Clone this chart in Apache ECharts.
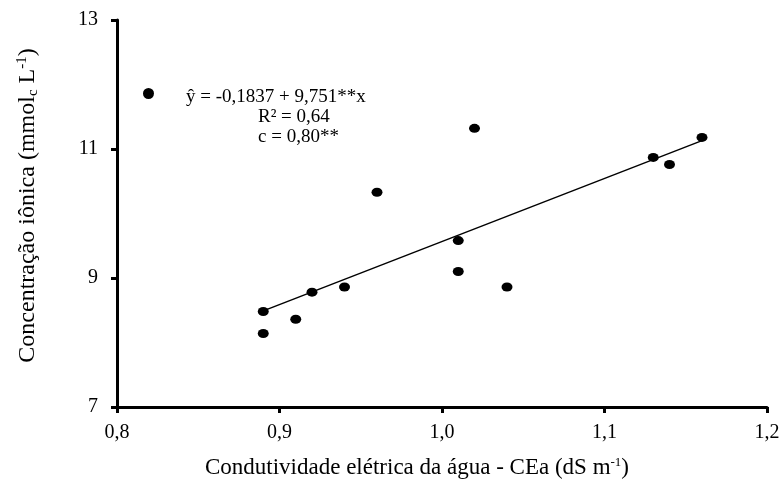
<!DOCTYPE html>
<html>
<head>
<meta charset="utf-8">
<script src="https://cdn.jsdelivr.net/npm/echarts@6/dist/echarts.min.js"></script>
<style>
  html, body { margin: 0; padding: 0; background: #fff; }
  #chart { width: 779px; height: 480px; }
</style>
</head>
<body>
<div id="chart"></div>
<script>
// observed points (CEa, concentration)
var ceaValues = [0.89, 0.89, 0.91, 0.92, 0.94, 0.96, 1.01, 1.01, 1.02, 1.04, 1.13, 1.14, 1.16];
var concValues = [8.48, 8.14, 8.36, 8.78, 8.86, 10.33, 9.58, 9.10, 11.32, 8.86, 10.87, 10.76, 11.18];
// fitted line ends
var fitX = [0.89, 1.16];
var fitY = [8.49, 11.13];
var xTicks = [0.8, 0.9, 1.0, 1.1, 1.2];
var yTicks = [7, 9, 11, 13];

var serif = 'Liberation Serif';
var points = ceaValues.map(function (x, i) { return [x, concValues[i]]; });
var fitLine = fitX.map(function (x, i) { return [x, fitY[i]]; });

var chart = echarts.init(document.getElementById('chart'));
var option = {
    animation: false,
    textStyle: {fontFamily: serif, color: '#000'},
    grid: {left: 117, right: 12, top: 20, bottom: 73, outerBoundsMode: 'none', containLabel: false},
    legend: {
        left: 138, top: 83,
        itemWidth: 11, itemHeight: 11,
        data: [{name: 'obs', icon: 'circle', itemStyle: {color: '#000', opacity: 1}}],
        formatter: function () { return ''; }
    },
    xAxis: {
        type: 'value', min: 0.8, max: 1.2, interval: 0.1,
        axisLine: {onZero: false, lineStyle: {color: '#000', width: 3}},
        axisTick: {length: 6, lineStyle: {color: '#000', width: 3}},
        splitLine: {show: false},
        axisLabel: {
            fontFamily: serif, fontSize: 20, color: '#000', margin: 16,
            formatter: function (v) { return v.toFixed(1).replace('.', ','); }
        },
        name: '{t|Condutividade elétrica da água - CEa (dS m}{s|-1}{t|)}',
        nameLocation: 'middle', nameGap: 49,
        nameTextStyle: {
            padding: [0, 50, 0, 0],
            rich: {
                t: {fontFamily: serif, fontSize: 23, color: '#000', lineHeight: 24},
                s: {fontFamily: serif, fontSize: 13, color: '#000', lineHeight: 24, verticalAlign: 'top', padding: [0, 0, 10, 0]}
            }
        }
    },
    yAxis: {
        type: 'value', min: 7, max: 13, interval: 2,
        axisLine: {onZero: false, lineStyle: {color: '#000', width: 3}},
        axisTick: {length: 6, lineStyle: {color: '#000', width: 3}},
        splitLine: {show: false},
        axisLabel: {fontFamily: serif, fontSize: 20, color: '#000', margin: 19},
        name: '{t|Concentração iônica (mmol}{b|c}{t| L}{s|-1}{t|)}',
        nameLocation: 'middle', nameGap: 76, nameRotate: 90,
        nameTextStyle: {
            padding: [0, 0, 0, 16],
            rich: {
                t: {fontFamily: serif, fontSize: 24, color: '#000', lineHeight: 26},
                b: {fontFamily: serif, fontSize: 15, color: '#000', lineHeight: 26, verticalAlign: 'bottom', padding: [8, 0, 0, 0]},
                s: {fontFamily: serif, fontSize: 15, color: '#000', lineHeight: 26, verticalAlign: 'top', padding: [0, 0, 10, 0]}
            }
        }
    },
    graphic: [{
        type: 'text', left: 186, top: 88,
        style: {
            text: 'ŷ = -0,1837 + 9,751**x',
            font: '19px "Liberation Serif"', fill: '#000'
        }
    }, {
        type: 'text', left: 258, top: 108,
        style: {text: 'R² = 0,64', font: '19px "Liberation Serif"', fill: '#000'}
    }, {
        type: 'text', left: 258, top: 128,
        style: {text: 'c = 0,80**', font: '19px "Liberation Serif"', fill: '#000'}
    }],
    series: [{
        name: 'obs', type: 'scatter',
        data: points,
        symbol: 'circle', symbolSize: [11, 9],
        itemStyle: {color: '#000', opacity: 1},
        z: 3
    }, {
        name: 'fit', type: 'line',
        data: fitLine,
        symbol: 'none',
        lineStyle: {color: '#000', width: 1.5},
        z: 2
    }]
};
chart.setOption(option);
</script>
</body>
</html>
